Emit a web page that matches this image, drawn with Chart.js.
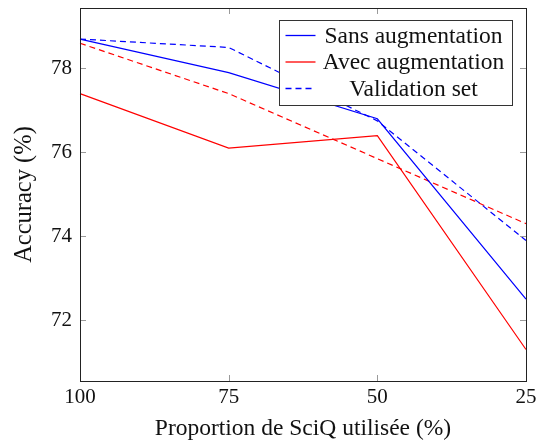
<!DOCTYPE html>
<html>
<head>
<meta charset="utf-8">
<script src="https://cdn.jsdelivr.net/npm/chart.js@4.4.1/dist/chart.umd.min.js"></script>
<style>
    html, body { margin: 0; padding: 0; background: #fff; }
    #wrap { width: 536px; height: 443px; }
</style>
</head>
<body>
<div id="wrap"><canvas id="chart" width="536" height="443"></canvas></div>
<script>
// Data
const proportions = ['100', '75', '50', '25'];
const sansAug = [78.7, 77.9, 76.8, 72.5];
const avecAug = [77.4, 76.1, 76.4, 71.3];
const validSans = [78.7, 78.5, 76.75, 73.9];
const validAvec = [78.6, 77.4, 75.85, 74.3];
const yTicks = [72, 74, 76, 78];

const FONT = '"Liberation Serif", "DejaVu Serif", serif';
const BLUE = '#0000ff';
const RED = '#ff0000';

// frame + inward ticks (pgfplots look)
const framePlugin = {
    id: 'frame',
    afterDatasetsDraw(chart) {
        const { ctx, chartArea: a, scales } = chart;
        ctx.save();
        ctx.strokeStyle = '#9a9a9a';
        ctx.lineWidth = 1;
        const t = 6;
        yTicks.forEach(v => {
            const y = Math.round(scales.y.getPixelForValue(v)) + 0.5;
            ctx.beginPath();
            ctx.moveTo(a.left, y); ctx.lineTo(a.left + t, y);
            ctx.moveTo(a.right, y); ctx.lineTo(a.right - t, y);
            ctx.stroke();
        });
        proportions.forEach((p, i) => {
            const x = Math.round(scales.x.getPixelForValue(i)) + 0.5;
            ctx.beginPath();
            ctx.moveTo(x, a.top); ctx.lineTo(x, a.top + t);
            ctx.moveTo(x, a.bottom); ctx.lineTo(x, a.bottom - t);
            ctx.stroke();
        });
        ctx.strokeStyle = '#222';
        ctx.strokeRect(Math.round(a.left) + 0.5, Math.round(a.top) + 0.5,
            Math.round(a.right - a.left), Math.round(a.bottom - a.top));
        ctx.restore();
    }
};

// boxed legend in the upper right corner, text centred in its column
const legendItems = [
    { label: 'Sans augmentation', color: BLUE, dash: [] },
    { label: 'Avec augmentation', color: RED, dash: [] },
    { label: 'Validation set', color: BLUE, dash: [6, 4] }
];

const legendPlugin = {
    id: 'boxLegend',
    afterDraw(chart) {
        const { ctx, chartArea: a } = chart;
        const boxW = 233, boxH = 85;
        const bx = Math.round(a.right - 14 - boxW) + 0.5;
        const by = Math.round(a.top + 12) + 0.5;
        ctx.save();
        ctx.fillStyle = '#fff';
        ctx.fillRect(bx, by, boxW, boxH);
        ctx.strokeStyle = '#333';
        ctx.lineWidth = 1;
        ctx.strokeRect(bx, by, boxW, boxH);
        ctx.font = '23.5px ' + FONT;
        ctx.textBaseline = 'middle';
        ctx.textAlign = 'center';
        legendItems.forEach((it, i) => {
            const cy = by + 15 + i * 26.5;
            ctx.strokeStyle = it.color;
            ctx.lineWidth = 1.3;
            ctx.setLineDash(it.dash);
            ctx.beginPath();
            ctx.moveTo(bx + 6, cy); ctx.lineTo(bx + 36, cy);
            ctx.stroke();
            ctx.setLineDash([]);
            ctx.fillStyle = '#111';
            ctx.fillText(it.label, bx + 134, cy + 1);
        });
        ctx.restore();
    }
};

new Chart(document.getElementById('chart'), {
    type: 'line',
    data: {
        labels: proportions,
        datasets: [
            { label: 'Sans augmentation', data: sansAug, borderColor: BLUE },
            { label: 'Avec augmentation', data: avecAug, borderColor: RED },
            { label: 'Validation set', data: validSans, borderColor: BLUE, borderDash: [6, 4] },
            { label: 'Validation set (avec)', data: validAvec, borderColor: RED, borderDash: [6, 4] }
        ].map(d => Object.assign({ borderWidth: 1.2, pointRadius: 0, tension: 0, fill: false }, d))
    },
    options: {
        responsive: false,
        animation: false,
        layout: { padding: { top: 8, right: 10, left: 0, bottom: 0 } },
        plugins: { legend: { display: false }, tooltip: { enabled: false } },
        scales: {
            x: {
                type: 'category',
                offset: false,
                grid: { display: false, drawTicks: false },
                border: { display: false },
                ticks: { color: '#111', font: { family: FONT, size: 21 }, padding: 4, maxRotation: 0 },
                title: { display: true, text: 'Proportion de SciQ utilisée (%)', color: '#111',
                    font: { family: FONT, size: 23.5 }, padding: { top: 0, bottom: 0 } },
                afterFit(scale) {
                    scale.height = 62;
                    scale.paddingLeft = 0;
                    scale.paddingRight = 0;
                }
            },
            y: {
                min: 70.55,
                max: 79.44,
                grid: { display: false, drawTicks: false },
                border: { display: false },
                afterBuildTicks(scale) { scale.ticks = yTicks.map(v => ({ value: v })); },
                ticks: { color: '#111', font: { family: FONT, size: 21 }, padding: 8 },
                title: { display: true, text: 'Accuracy (%)', color: '#111',
                    font: { family: FONT, size: 24.5 }, padding: { top: 10, bottom: 0 } },
                afterFit(scale) {
                    scale.width = 80;
                    scale.paddingTop = 0;
                    scale.paddingBottom = 0;
                }
            }
        }
    },
    plugins: [framePlugin, legendPlugin]
});
</script>
</body>
</html>
